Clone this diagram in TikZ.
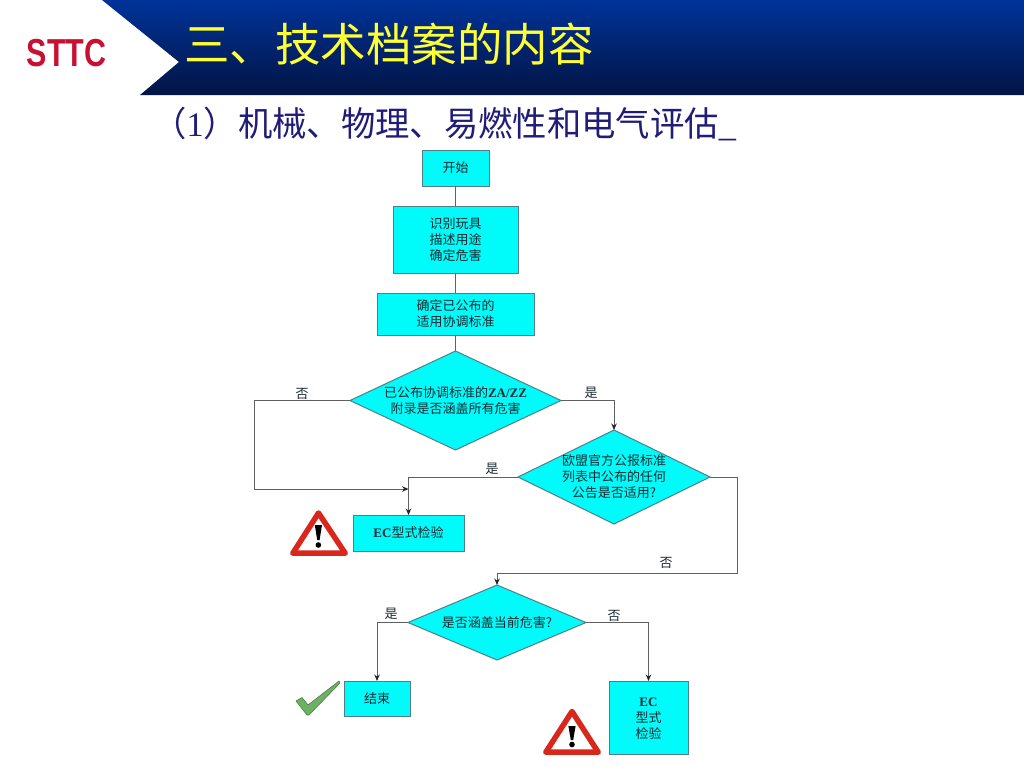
\documentclass[tikz,border=0pt]{standalone}
\usepackage{fontspec}
\setmainfont{Noto Sans CJK SC}
\newfontfamily\serfont{Liberation Serif}
\newfontfamily\latinbold{Liberation Sans}
\usetikzlibrary{shapes.geometric,arrows.meta}
\definecolor{boxcyan}{HTML}{00FBFB}
\definecolor{boxedge}{HTML}{4F7F88}
\definecolor{lineg}{HTML}{606060}
\definecolor{txt}{HTML}{1C2A30}
\definecolor{navytxt}{HTML}{201C78}
\definecolor{warnred}{HTML}{D8281C}
\definecolor{okgreen}{HTML}{6DB264}
\definecolor{headtop}{RGB}{0,51,153}
\definecolor{headmid}{RGB}{0,45,140}
\definecolor{headbot}{RGB}{2,20,68}
\definecolor{logored}{RGB}{200,16,50}
\definecolor{titleyel}{RGB}{255,255,51}
\newcommand{\flowtxt}[1]{\smash{\makebox[0pt]{\raisebox{-4.5pt}{\begin{tabular}{@{}c@{}}#1\end{tabular}}}}}
\newcommand{\latn}[1]{{\serfont\bfseries #1}}
\tikzset{
  flowbox/.style={draw=boxedge,fill=boxcyan,line width=1pt,inner sep=0pt,outer sep=0pt,text=txt,font=\fontsize{13}{16}\selectfont},
  flowdia/.style={diamond,draw=boxedge,fill=boxcyan,line width=1pt,inner sep=0pt,outer sep=0pt,text=txt,font=\fontsize{13}{16}\selectfont},
  flowline/.style={draw=lineg,line width=1pt},
  flowarrow/.style={flowline,-{Stealth[length=6.5pt,width=5.5pt,color=black!85]}},
  yesno/.style={text=txt,font=\fontsize{13}{14}\selectfont,inner sep=0pt},
  warnframe/.style={draw=warnred,fill=white,line width=5.5pt,line join=round}
}
\begin{document}
\begin{tikzpicture}[x=1pt,y=-1pt]
\useasboundingbox (0,0) rectangle (1024,768);
\fill[white] (0,0) rectangle (1024,768);
% header
\shade[top color=headtop,middle color=headmid,bottom color=headbot]
  (102,0) -- (1024,0) -- (1024,95) -- (140,95) -- (179,62) -- cycle;
\node[inner sep=0pt,text=logored,font=\latinbold\bfseries\fontsize{39}{39}\selectfont,xscale=.78,transform shape] (logo) at (66.5,53) {STTC};
\node[inner sep=0pt,anchor=west,text=titleyel,font=\fontsize{45.5}{46}\selectfont] (title) at (184,44) {三、技术档案的内容};
\node[inner sep=0pt,anchor=west,text=navytxt,font=\fontsize{34.35}{36}\selectfont] (sub) at (152,124) {（{\serfont 1}）机械、物理、易燃性和电气评估{\serfont\_}};
% flow boxes
\node[flowbox,minimum width=67pt,minimum height=36pt] (start) at (455.5,168) {开始};
\node[flowbox,minimum width=125pt,minimum height=67pt] (identify) at (455.5,239.5) {\flowtxt{识别玩具\\描述用途\\确定危害}};
\node[flowbox,minimum width=157pt,minimum height=42pt] (stds) at (455.5,314) {\flowtxt{确定已公布的\\适用协调标准}};
\node[flowdia,minimum width=211pt,minimum height=99pt] (d1) at (455.5,400.5) {\flowtxt{已公布协调标准的\latn{ZA/ZZ}\\附录是否涵盖所有危害}};
\node[flowdia,minimum width=192pt,minimum height=94pt] (d2) at (614,477) {\flowtxt{欧盟官方公报标准\\列表中公布的任何\\公告是否适用?}};
\node[flowbox,minimum width=111pt,minimum height=36pt] (ec1) at (408.5,533) {\latn{EC}型式检验};
\node[flowdia,minimum width=178pt,minimum height=75pt] (d3) at (497,622.5) {\flowtxt{是否涵盖当前危害?}};
\node[flowbox,minimum width=66pt,minimum height=35pt] (finish) at (377,698.5) {结束};
\node[flowbox,minimum width=79pt,minimum height=73pt] (ec2) at (648.5,717.5) {\flowtxt{\latn{EC}\\型式\\检验}};
% connectors
\coordinate (join) at (408.5,489);
\draw[flowline] (start) -- (identify);
\draw[flowline] (identify) -- (stds);
\draw[flowline] (stds) -- (d1);
\draw[flowarrow] (d1.west) -| (254,489) -- (join);
\draw[flowarrow] (d1.east) -| (d2.north);
\draw[flowarrow] (d2.west) -| (ec1.north);
\draw[flowarrow] (d2.east) -| (737,573) -| (d3.north);
\draw[flowarrow] (d3.west) -| (finish.north);
\draw[flowarrow] (d3.east) -| (ec2.north);
% labels
\node[yesno] (l1) at (302,394) {否};
\node[yesno] (l2) at (591,393) {是};
\node[yesno] (l3) at (492,469) {是};
\node[yesno] (l4) at (666,563) {否};
\node[yesno] (l5) at (391,614) {是};
\node[yesno] (l6) at (614,616) {否};
% warning signs
\draw[warnframe] (318.5,513) -- (345.2,553.2) -- (292.8,553.2) -- cycle;
\fill[black] (314.8,525) -- (322,525) -- (319.6,540) -- (317.2,540) -- cycle;
\fill[black] (318.4,545) circle (2.8);
\draw[warnframe] (572,711.5) -- (598.2,752.2) -- (545.8,752.2) -- cycle;
\fill[black] (568.4,726) -- (575.6,726) -- (573.2,740) -- (570.8,740) -- cycle;
\fill[black] (572,744.5) circle (2.8);
% check mark
\fill[okgreen,draw=okgreen!70!black,line width=.6pt,line join=round]
  (296,701) -- (302,697.5) -- (308,705) -- (339,681) -- (340,683) -- (309,715) -- (307,715) -- cycle;
\end{tikzpicture}
\end{document}
